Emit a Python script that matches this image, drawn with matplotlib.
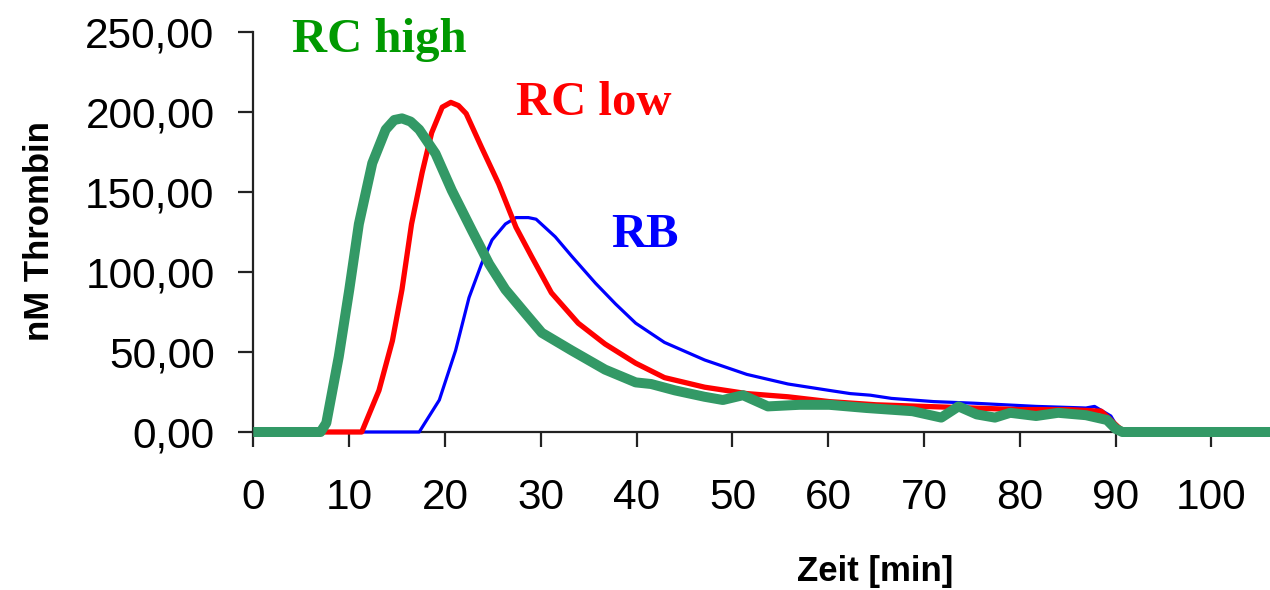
import matplotlib.pyplot as plt
import numpy as np

# thrombin generation curves
green_t = [0.5, 7.0, 7.6, 8.9, 10.0, 11.0, 12.4, 13.8, 14.7, 15.5, 16.4, 17.3, 19.0,
           20.7, 22.8, 24.6, 26.3, 28.4, 30.1, 33.2, 36.7, 39.9, 41.5, 44.0, 47.1,
           49.0, 51.1, 53.7, 57.0, 60.1, 64.0, 68.8, 71.8, 73.6, 75.5, 77.4, 79.0,
           81.7, 84.0, 86.9, 89.1, 90.0, 90.7, 105.6]
green_y = [0, 0, 5.6, 47, 89, 130, 168, 189, 195, 196, 194, 189, 174,
           151, 126, 105, 89, 74, 62, 51, 39, 31, 30, 26, 22,
           20, 23, 16, 17, 17, 15, 13, 9, 16, 11, 9, 12,
           10, 12, 10.5, 7.5, 2, 0, 0]

red_t = [7.0, 11.3, 13.1, 14.5, 15.5, 16.5, 17.6, 18.6, 19.7, 20.6, 21.4, 22.2, 23.8,
         25.6, 27.4, 29.0, 31.1, 33.9, 36.7, 39.9, 42.9, 47.1, 51.5, 55.8, 60.1,
         65.0, 70.0, 75.0, 80.0, 85.0, 88.5, 90.3, 91.0]
red_y = [0, 0, 26, 57, 89, 130, 162, 187, 203, 206, 204, 199, 178,
         155, 128, 110, 87, 68, 55, 43, 34, 28, 24, 22, 19,
         17, 16, 15, 14, 14, 13, 3, 0]

blue_t = [11.0, 17.3, 19.4, 21.1, 22.5, 23.8, 24.9, 26.3, 27.4, 28.7, 29.5, 31.5,
          33.2, 35.7, 37.8, 39.9, 42.9, 47.1, 51.5, 55.8, 60.1, 62.3, 64.4, 66.6,
          71.0, 75.2, 81.7, 86.9, 87.8, 89.5, 90.5]
blue_y = [0, 0, 20, 51, 84, 105, 120, 130, 134, 134, 133, 122,
          110, 93, 80, 68, 56, 45, 36, 30, 26, 24, 23, 21,
          19, 18, 16, 15, 16, 10, 0]

xticks = np.arange(0, 101, 10)
yticks = np.arange(0, 251, 50)

fig = plt.figure(figsize=(12.7, 5.9), dpi=100)
ax = fig.add_axes([0.1996, 0.2678, 0.7965, 0.678])

ax.plot(blue_t, blue_y, color='#0000ff', lw=2.3, zorder=3, clip_on=False)
ax.plot(red_t, red_y, color='#ff0000', lw=3.8, zorder=4, clip_on=False)
ax.plot(green_t, green_y, color='#339966', lw=7.2, zorder=5, clip_on=False)

ax.set_xlim(0, 105.6)
ax.set_ylim(0, 250)
ax.set_xticks(xticks)
ax.set_yticks(yticks)
ax.set_yticklabels([f'{v:.2f}'.replace('.', ',') for v in yticks])

for s in ['top', 'right']:
    ax.spines[s].set_visible(False)
for s in ['left', 'bottom']:
    ax.spines[s].set_color('#222222')
    ax.spines[s].set_linewidth(1.6)

ax.tick_params(axis='x', length=11, width=1.6, color='#222222', pad=22,
               labelsize=30.5)
ax.tick_params(axis='y', length=11, width=1.6, color='#222222', pad=17,
               labelsize=30.5)
for lab in ax.get_xticklabels() + ax.get_yticklabels():
    lab.set_fontfamily('Liberation Sans')

fig.text(40 / 1270, 1 - 231 / 590, 'nM Thrombin', rotation=90, ha='center',
         va='center', fontsize=25, fontweight='bold', family='Liberation Sans')
fig.text(875 / 1270, 1 - 572 / 590, 'Zeit [min]', ha='center', va='center',
         fontsize=25, fontweight='bold', family='Liberation Sans')

serif = dict(fontsize=35, fontweight='bold', family='Liberation Serif',
             va='center', ha='left')
fig.text(292 / 1270, 1 - 40 / 590, 'RC high', color='#009900', **serif)
fig.text(516 / 1270, 1 - 103 / 590, 'RC low', color='#ff0000', **serif)
fig.text(611 / 1270, 1 - 235 / 590, 'RB', color='#0000ff', **serif)

fig.savefig('out.png', dpi=100)
